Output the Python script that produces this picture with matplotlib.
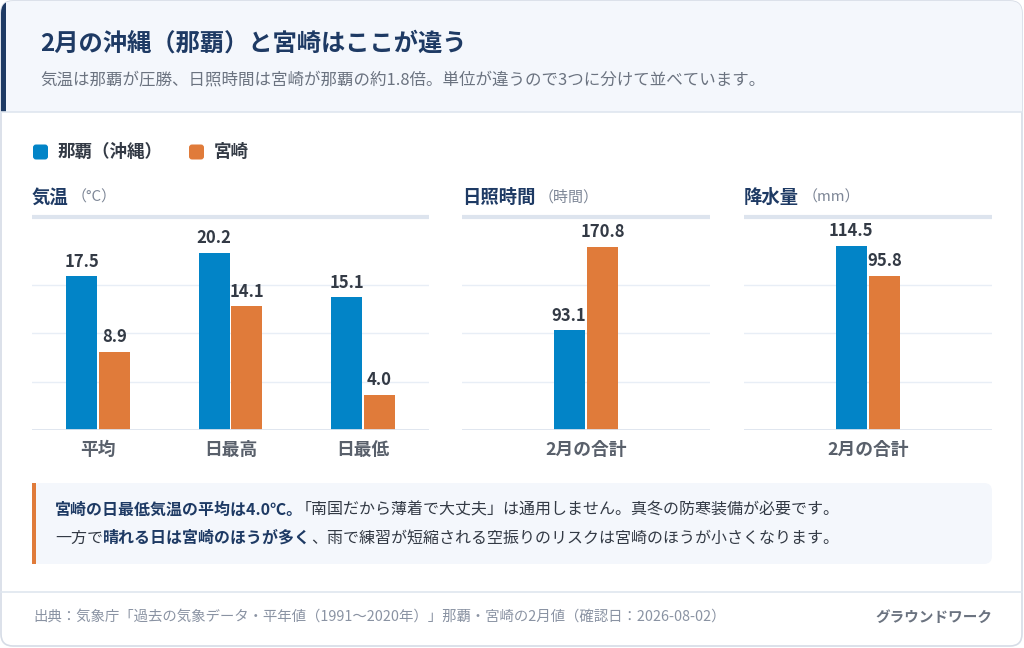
import matplotlib
matplotlib.use("Agg")
import matplotlib.pyplot as plt
from matplotlib.patches import FancyBboxPatch, Rectangle
import numpy as np

plt.rcParams['font.family'] = ['Noto Sans CJK JP', 'DejaVu Sans']

# ---- data ----
series_names = ["那覇（沖縄）", "宮崎"]
temp_cats = ["平均", "日最高", "日最低"]
temp_naha = [17.5, 20.2, 15.1]
temp_miya = [8.9, 14.1, 4.0]
sun_cats = ["2月の合計"]
sun_naha = [93.1]
sun_miya = [170.8]
rain_cats = ["2月の合計"]
rain_naha = [114.5]
rain_miya = [95.8]

# ---- styles ----
BLUE = "#0284c7"
ORANGE = "#e07b3a"
NAVY = "#1e3a64"
DARK = "#333a45"
GRAY = "#6b7380"
LIGHT = "#f4f7fc"
GRID = "#e8eef6"
BASE = "#dde4ee"

W, H = 1024, 648
fig = plt.figure(figsize=(W / 100, H / 100), dpi=100)

# background axes in pixel coords
bg = fig.add_axes([0, 0, 1, 1])
bg.set_xlim(0, W)
bg.set_ylim(H, 0)
bg.axis("off")

card = FancyBboxPatch((1, 1), W - 3, H - 3, boxstyle="round,pad=0,rounding_size=12",
                      fc="white", ec="#d6dce6", lw=1.2, zorder=0)
bg.add_patch(card)
hdr = Rectangle((0, 0), W, 112, fc=LIGHT, ec="none", zorder=1)
bg.add_patch(hdr)
hdr.set_clip_path(card)
accent = Rectangle((0, 0), 6, 112, fc=NAVY, ec="none", zorder=2)
bg.add_patch(accent)
accent.set_clip_path(card)
bg.plot([1, W - 2], [112, 112], color="#dfe6ef", lw=1.2, zorder=2)
bg.plot([1, W - 2], [592, 592], color="#dfe6ef", lw=1.2, zorder=2)

bg.text(40, 44, "2月の沖縄（那覇）と宮崎はここが違う", fontsize=17.5, fontweight="bold",
        color=NAVY, va="center", zorder=3)
bg.text(40, 80, "気温は那覇が圧勝、日照時間は宮崎が那覇の約1.8倍。単位が違うので3つに分けて並べています。",
        fontsize=11.9, color=GRAY, va="center", zorder=3)

# legend
for x0, name, col in [(33, series_names[0], BLUE), (189, series_names[1], ORANGE)]:
    bg.add_patch(FancyBboxPatch((x0, 144.5), 15, 15, boxstyle="round,pad=0,rounding_size=3",
                                fc=col, ec="none", zorder=3))
    bg.text(x0 + 25, 152, name, fontsize=12.6, fontweight="bold", color=DARK, va="center", zorder=3)

fig.canvas.draw()
renderer = fig.canvas.get_renderer()


def runs(x, y, parts, size):
    # draw consecutive text pieces, bold or normal; 3rd item = extra shift before run
    for txt, bold, col, shift in parts:
        x += shift
        t = bg.text(x, y, txt, fontsize=size, fontweight="bold" if bold else "normal",
                    color=col, va="center", zorder=4)
        x += t.get_window_extent(renderer).width
    return x


# panels
panels = [
    (32, 397, "気温", "（°C）", temp_cats, temp_naha, temp_miya, 22, 0.235),
    (462, 248, "日照時間", "（時間）", sun_cats, sun_naha, sun_miya, 180, 0.125),
    (744, 248, "降水量", "（mm）", rain_cats, rain_naha, rain_miya, 120, 0.125),
]
base_y = 430
top_y = 236.8
for x0, wd, title, unit, cats, a, b, ymax, bw in panels:
    xe = runs(x0, 197, [(title, True, NAVY, 0)], 13.2)
    bg.text(xe + 3, 197, unit, fontsize=10.8, color="#7d8696", va="center", zorder=4)
    bg.plot([x0, x0 + wd], [217, 217], color=BASE, lw=3, zorder=2, solid_capstyle="butt")

    ax = fig.add_axes([x0 / W, 1 - base_y / H, wd / W, (base_y - top_y) / H])
    ax.patch.set_alpha(0)
    n = len(cats)
    xs = np.arange(n)
    ax.set_xlim(-0.5, n - 0.5)
    ax.set_ylim(0, ymax)
    for g in [ymax / 4, ymax / 2, ymax * 3 / 4]:
        ax.axhline(g, color=GRID, lw=1, zorder=0)
    ax.axhline(0, color=BASE, lw=2, zorder=3)
    b1 = ax.bar(xs - bw / 2 - 0.006, a, width=bw, color=BLUE, zorder=2)
    b2 = ax.bar(xs + bw / 2 + 0.006, b, width=bw, color=ORANGE, zorder=2)
    for bars, vals in [(b1, a), (b2, b)]:
        for r, v in zip(bars, vals):
            ax.annotate(f"{v:.1f}", (r.get_x() + r.get_width() / 2, v), xytext=(0, 4),
                        textcoords="offset points", ha="center", va="bottom",
                        fontsize=12, fontweight="bold", color=DARK)
    ax.set_xticks(xs)
    ax.set_xticklabels(cats, fontsize=12.8, fontweight="bold", color="#59606b")
    ax.tick_params(axis="x", length=0, pad=8)
    ax.set_yticks([])
    for s in ax.spines.values():
        s.set_visible(False)

# callout
box = FancyBboxPatch((32, 483), 960, 81, boxstyle="round,pad=0,rounding_size=8",
                     fc=LIGHT, ec="none", zorder=1)
bg.add_patch(box)
bg.add_patch(Rectangle((32, 483), 3.5, 81, fc=ORANGE, ec="none", zorder=2))
runs(55, 510, [("宮崎の日最低気温の平均は4.0℃。", True, NAVY, 0),
               ("「南国だから薄着で大丈夫」は通用しません。真冬の防寒装備が必要です。", False, DARK, -7)], 11.5)
runs(55, 538, [("一方で", False, DARK, 0),
               ("晴れる日は宮崎のほうが多く", True, NAVY, 0),
               ("、雨で練習が短縮される空振りのリスクは宮崎のほうが小さくなります。", False, DARK, 0)], 11.5)

# footer
bg.text(33, 617, "出典：気象庁「過去の気象データ・平年値（1991〜2020年）」那覇・宮崎の2月値（確認日：2026-08-02）",
        fontsize=10.4, color="#8a93a3", va="center", zorder=3)
bg.text(992, 617, "グラウンドワーク", fontsize=10.5, fontweight="bold", color="#6b7380",
        va="center", ha="right", zorder=3)

fig.savefig("out.png", dpi=100)
